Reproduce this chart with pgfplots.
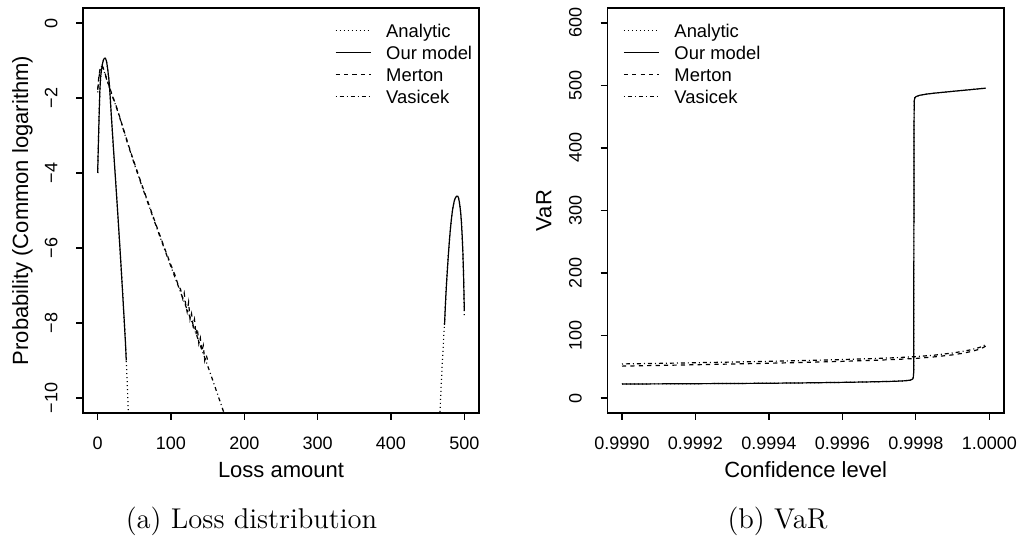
\documentclass[border=0pt]{standalone}
\usepackage{fontspec}
\usepackage{pgfplots}
\pgfplotsset{compat=1.18}
\newfontfamily\arial{Liberation Sans}

\pgfplotsset{
  rstyle/.style={
    scale only axis,
    height=202.5pt,
    axis line style={line width=0.6pt},
    every tick/.style={line width=0.6pt, black},
    tick align=outside,
    major tick length=3.4pt,
    xtick pos=left, ytick pos=left,
    /pgf/number format/assume math mode=true,
    ticklabel style={font=\arial\fontsize{9}{10.8}\selectfont, inner sep=0pt},
    xticklabel style={anchor=center, yshift=-12pt},
    yticklabel style={xshift=-12.5pt, rotate=90, anchor=center},
    label style={font=\arial\fontsize{11}{13}\selectfont, inner sep=0pt},
    xlabel style={at={(axis description cs:0.5,-0.1407)}, anchor=center},
    legend style={draw=none, fill=none, inner sep=0pt, outer sep=0pt,
      anchor=north west, font=\arial\fontsize{9.2}{11}\selectfont,
      row sep=0pt, column sep=7.5pt,
      nodes={inner sep=0pt, text height=8.78pt, text depth=2.18pt}},
    legend cell align=left,
    legend image code/.code={\draw[##1] (0pt,0pt) -- (17.5pt,0pt);},
    every axis plot/.append style={line width=0.6pt, black},
  },
  analytic/.style={dash pattern=on 0.5pt off 1.5pt},
  ourmodel/.style={solid},
  merton/.style={dash pattern=on 2.1pt off 2.1pt},
  vasicek/.style={dash pattern=on 0.5pt off 1.5pt on 2pt off 1.5pt},
}

\begin{document}
\begin{tikzpicture}
\useasboundingbox (0,0) rectangle (508.5pt,270pt);

% ---------------- (a) Loss distribution ----------------
\begin{axis}[rstyle,
  at={(41.5pt,63.5pt)}, anchor=south west, width=198pt,
  xmin=-20, xmax=520, ymin=-10.4, ymax=0.4,
  xtick={0,100,200,300,400,500},
  xticklabels={0,100,200,300,400,500},
  ytick={-10,-8,-6,-4,-2,0},
  yticklabels={−10,−8,−6,−4,−2,0},
  xlabel={Loss amount},
  ylabel={Probability (Common logarithm)},
  ylabel style={at={(axis description cs:-0.1528,0.5)}, anchor=center},
  legend style={at={(0.6364,0.9709)}},
]
% Analytic
\addplot[analytic] coordinates {
(0,-4.0) (1,-3.2) (2,-2.45) (3,-1.8) (4,-1.45) (5,-1.28) (6,-1.15) (7,-1.05)
(8,-0.98) (9,-0.945) (10,-0.935) (11,-0.96) (12,-1.02) (13,-1.13) (14,-1.28)
(15,-1.45) (16,-1.65) (17,-1.95) (18,-2.27) (19,-2.58) (20,-2.88) (22,-3.48)
(24,-4.07) (26,-4.66) (28,-5.26) (30,-5.88) (32,-6.52) (34,-7.18) (36,-7.86)
(38,-8.56) (39,-9.0) (40,-9.45) (41,-9.95) (42,-10.5) (43,-11.1)
};
\addlegendentry{Analytic}
% Our model
\addplot[ourmodel] coordinates {
(0,-4.0) (1,-3.2) (2,-2.45) (3,-1.8) (4,-1.45) (5,-1.28) (6,-1.15) (7,-1.05)
(8,-0.98) (9,-0.945) (10,-0.935) (11,-0.96) (12,-1.02) (13,-1.13) (14,-1.28)
(15,-1.45) (16,-1.65) (17,-1.95) (18,-2.27) (19,-2.58) (20,-2.88) (22,-3.48)
(24,-4.07) (26,-4.66) (28,-5.26) (30,-5.88) (32,-6.52) (34,-7.18) (36,-7.86)
(38,-8.56) (39,-9.0)
};
\addlegendentry{Our model}
% Merton
\addplot[merton] coordinates {
(0,-1.78) (1,-1.55) (2,-1.38) (3,-1.26) (4,-1.18) (5,-1.14) (6,-1.14) (7,-1.17)
(8,-1.22) (10,-1.34) (12,-1.47) (15,-1.65) (20,-1.93) (25,-2.2) (30,-2.5)
(35,-2.82) (40,-3.13) (45,-3.44) (50,-3.73) (60,-4.3) (70,-4.85) (80,-5.4)
(90,-5.94) (100,-6.46) (105,-6.7) (110,-7.0) (113,-7.1) (116,-7.35) (118,-7.2)
(120,-7.5) (122,-7.7) (124,-7.45) (126,-7.9) (128,-7.75) (130,-8.05) (132,-7.9)
(134,-8.3) (136,-8.15) (138,-8.55) (140,-8.4) (142,-8.75) (144,-8.6) (146,-9.0)
(148,-8.85) (150,-9.0) (152,-9.0)
};
\addlegendentry{Merton}
% Vasicek
\addplot[vasicek] coordinates {
(0,-1.85) (1,-1.6) (2,-1.42) (3,-1.29) (4,-1.2) (5,-1.16) (6,-1.16) (7,-1.19)
(8,-1.24) (10,-1.36) (12,-1.49) (15,-1.67) (20,-1.95) (25,-2.22) (30,-2.52)
(35,-2.84) (40,-3.16) (45,-3.46) (50,-3.76) (60,-4.33) (70,-4.88) (80,-5.43)
(90,-5.97) (100,-6.5) (110,-7.02) (120,-7.54) (130,-8.06) (140,-8.6) (150,-9.14)
(160,-9.7) (170,-10.27) (175,-10.56)
};
\addlegendentry{Vasicek}
% second hump: Analytic
\addplot[analytic, forget plot] coordinates {
(465,-10.9) (466,-10.6) (467,-10.3) (468,-9.85) (469,-9.45) (470,-9.05) (471,-8.7)
(472,-8.35) (473,-8.05) (474,-7.6) (475,-7.2) (476,-6.86) (477,-6.55) (478,-6.25)
(479,-5.98) (480,-5.72) (481,-5.5) (482,-5.3) (483,-5.13) (484,-4.98) (485,-4.87)
(486,-4.77) (487,-4.7) (488,-4.66) (489,-4.63) (490,-4.62) (491,-4.62) (492,-4.66)
(493,-4.75) (494,-4.88) (495,-5.05) (496,-5.3) (497,-5.65) (498,-6.1) (499,-6.75)
(500,-7.8)
};
% second hump: Our model
\addplot[ourmodel, forget plot] coordinates {
(473,-8.05) (474,-7.6) (475,-7.2) (476,-6.86) (477,-6.55) (478,-6.25)
(479,-5.98) (480,-5.72) (481,-5.5) (482,-5.3) (483,-5.13) (484,-4.98) (485,-4.87)
(486,-4.77) (487,-4.7) (488,-4.66) (489,-4.63) (490,-4.62) (491,-4.62) (492,-4.66)
(493,-4.75) (494,-4.88) (495,-5.05) (496,-5.3) (497,-5.65) (498,-6.1) (499,-6.75)
(500,-7.66)
};
\end{axis}

% ---------------- (b) VaR ----------------
% x = (confidence level - 0.999) x 10^4
\begin{axis}[rstyle,
  at={(303.65pt,63.5pt)}, anchor=south west, width=198.35pt,
  xmin=-0.4, xmax=10.4, ymin=-24, ymax=624,
  xtick={0,2,4,6,8,10},
  xticklabels={0.9990,0.9992,0.9994,0.9996,0.9998,1.0000},
  ytick={0,100,200,300,400,500,600},
  yticklabels={0,100,200,300,400,500,600},
  xlabel={Confidence level},
  ylabel={VaR},
  ylabel style={at={(axis description cs:-0.1601,0.5)}, anchor=center},
  legend style={at={(0.0403,0.9709)}},
]
\addplot[analytic] coordinates {
(0,22.4) (1,22.6) (2,22.9) (3,23.2) (4,23.6) (5,24.2) (6,25.0) (6.5,25.5) (7,26.1)
(7.4,26.7) (7.7,27.5) (7.85,28.6) (7.91,30.2) (7.93,32.5) (7.94,40) (7.945,200)
(7.95,420) (7.955,475) (7.97,480) (8.0,482) (8.1,484.3) (8.3,486.3) (8.5,487.7)
(9.0,490.6) (9.5,493.4) (9.9,495.7)
};
\addlegendentry{Analytic}
\addplot[ourmodel] coordinates {
(0,22.4) (1,22.6) (2,22.9) (3,23.2) (4,23.6) (5,24.2) (6,25.0) (6.5,25.5) (7,26.1)
(7.4,26.7) (7.7,27.5) (7.85,28.6) (7.91,30.2) (7.93,32.5) (7.94,40) (7.945,200)
(7.95,420) (7.955,475) (7.97,480) (8.0,482) (8.1,484.3) (8.3,486.3) (8.5,487.7)
(9.0,490.6) (9.5,493.4) (9.9,495.7)
};
\addlegendentry{Our model}
\addplot[merton] coordinates {
(0,51.0) (1,52.1) (2,53.2) (3,54.4) (4,55.6) (5,57.0) (6,58.6) (7,60.6) (7.5,61.8)
(8,63.3) (8.5,65.8) (9,69.0) (9.3,71.8) (9.5,74.3) (9.7,77.5) (9.8,79.6) (9.9,83.0)
};
\addlegendentry{Merton}
\addplot[vasicek] coordinates {
(0,54.5) (1,55.4) (2,56.4) (3,57.5) (4,58.7) (5,60.0) (6,61.5) (7,63.4) (7.5,64.6)
(8,66.2) (8.5,68.5) (9,72.0) (9.3,74.8) (9.5,77.2) (9.7,80.3) (9.8,82.3) (9.9,85.5)
};
\addlegendentry{Vasicek}
\end{axis}

\node[anchor=base, font=\fontsize{14.3}{17}\selectfont] at (125.75pt,5.5pt) {(a) Loss distribution};
\node[anchor=base, font=\fontsize{14.3}{17}\selectfont] at (388.75pt,5.5pt) {(b) VaR};
\end{tikzpicture}
\end{document}
